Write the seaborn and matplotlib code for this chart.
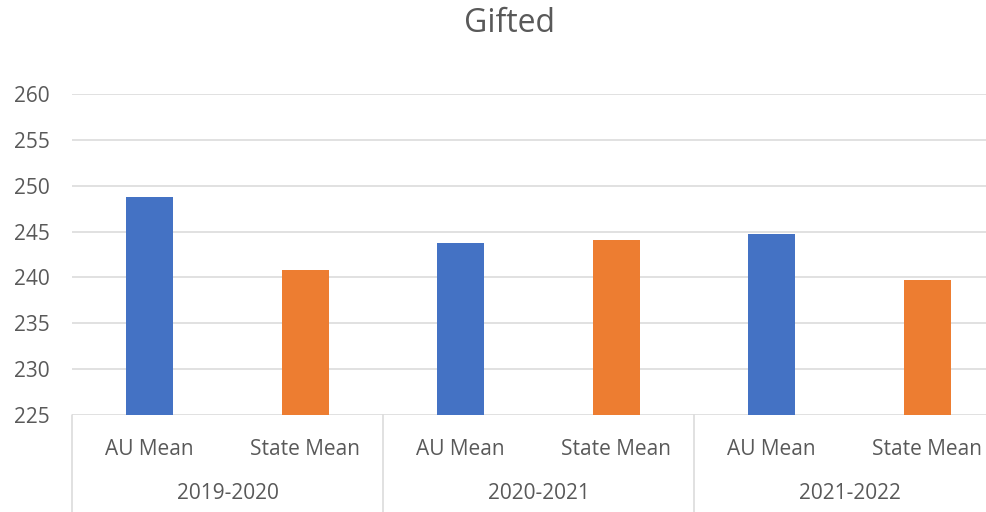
import matplotlib
matplotlib.use("Agg")
import matplotlib.pyplot as plt
import matplotlib.transforms as mtransforms
import seaborn as sns
import pandas as pd

# Data
years = ["2019-2020", "2020-2021", "2021-2022"]
measures = ["AU Mean", "State Mean"]
au_mean = [248.8, 243.7, 244.75]
state_mean = [240.8, 244.1, 239.75]
y_ticks = [225, 230, 235, 240, 245, 250, 255, 260]

rows = []
for i, yr in enumerate(years):
    rows.append({"slot": f"{yr} | AU Mean", "series": "AU Mean", "value": au_mean[i]})
    rows.append({"slot": f"{yr} | State Mean", "series": "State Mean", "value": state_mean[i]})
df = pd.DataFrame(rows)

sns.set_theme(style="white")
plt.rcParams["font.family"] = ["Open Sans", "DejaVu Sans"]

text_color = "#595959"
grid_color = "#d9d9d9"
palette = {"AU Mean": "#4472C4", "State Mean": "#ED7D31"}

fig = plt.figure(figsize=(9.87, 5.12), dpi=100)
ax = fig.add_axes([72 / 987, 1 - 415 / 512, 933 / 987, 321 / 512])

sns.barplot(data=df, x="slot", y="value", hue="series", palette=palette,
            dodge=False, width=0.30, saturation=1, legend=False, ax=ax,
            zorder=3, linewidth=0)

ax.set_ylim(225, 260)
ax.set_xlim(-0.5, 5.5)
ax.set_yticks(y_ticks)
ax.set_yticklabels([str(t) for t in y_ticks], fontsize=15, color=text_color)
ax.tick_params(axis="y", length=0, pad=16)
ax.set_xticks([])
ax.set_xlabel("")
ax.set_ylabel("")
for t in y_ticks:
    ax.axhline(t, color=grid_color, lw=1.1, zorder=1)
for s in ax.spines.values():
    s.set_visible(False)

# Two-level category axis
trans = mtransforms.blended_transform_factory(ax.transData, ax.transAxes)
for i, yr in enumerate(years):
    for j, m in enumerate(measures):
        ax.text(2 * i + j, -0.106, m, transform=trans, ha="center", va="center",
                fontsize=15, color=text_color)
    ax.text(2 * i + 0.5, -0.246, yr, transform=trans, ha="center", va="center",
            fontsize=15, color=text_color)
for xsep in [-0.5, 1.5, 3.5, 5.5]:
    ax.plot([xsep, xsep], [0, -0.35], transform=trans, color=grid_color,
            lw=1.1, clip_on=False)

fig.text(510 / 987, 1 - 24 / 512, "Gifted", ha="center", va="center",
         fontsize=23, color=text_color)

fig.savefig("out.png", dpi=100)
